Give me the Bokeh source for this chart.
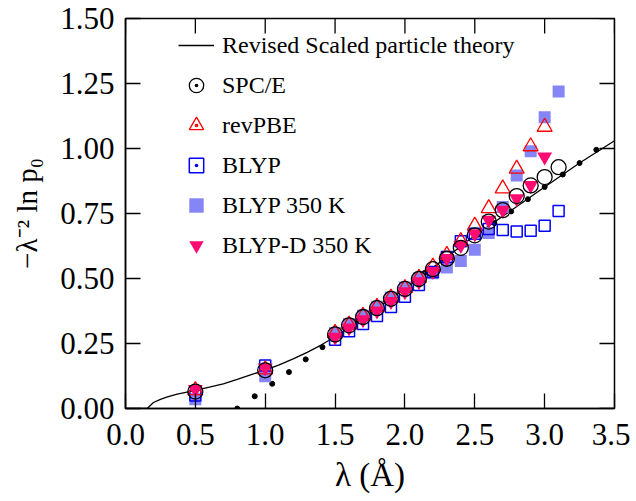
import math
from bokeh.plotting import figure
from bokeh.models import (Range1d, FixedTicker, PrintfTickFormatter, Legend, LegendItem)
from bokeh.embed import file_html
from bokeh.resources import INLINE

# ---------------- data ----------------
x_ticks = [0.0, 0.5, 1.0, 1.5, 2.0, 2.5, 3.0, 3.5]
y_ticks = [0.0, 0.25, 0.5, 0.75, 1.0, 1.25, 1.5]

# Revised scaled particle theory curve
rspt_lam = [0.0, 0.155, 0.2, 0.25, 0.3, 0.37, 0.5, 0.6, 0.7, 0.8, 0.9, 1.0, 1.1, 1.2,
            1.3, 1.4, 1.5, 1.75, 2.0, 2.25, 2.5, 2.75, 3.0, 3.25, 3.5]
rspt_val = [0.0, 0.0, 0.023, 0.035, 0.045, 0.055, 0.07, 0.082, 0.095, 0.112, 0.13, 0.148,
            0.168, 0.191, 0.216, 0.244, 0.276, 0.366, 0.46, 0.562, 0.665, 0.758, 0.852,
            0.944, 1.03]

# small black points
dots_lam = [0.80, 0.925, 1.05, 1.17, 1.29, 1.41, 1.53, 1.65, 1.77, 1.89, 2.02, 2.14,
            2.27, 2.39, 2.52, 2.64, 2.76, 2.88, 3.00, 3.13, 3.25, 3.37]
dots_val = [0.0, 0.047, 0.095, 0.14, 0.189, 0.236, 0.283, 0.33, 0.377, 0.425, 0.473,
            0.521, 0.57, 0.62, 0.668, 0.713, 0.758, 0.805, 0.852, 0.90, 0.944, 0.995]

lam_long = [0.5, 1.0, 1.5, 1.6, 1.7, 1.8, 1.9, 2.0, 2.1, 2.2, 2.3, 2.4, 2.5, 2.6, 2.7,
            2.8, 2.9, 3.0, 3.1]
lam_short = [0.5, 1.0, 1.5, 1.6, 1.7, 1.8, 1.9, 2.0, 2.1, 2.2, 2.3, 2.4, 2.5, 2.6, 2.7,
             2.8, 2.9, 3.0]

spce = [0.065, 0.147, 0.285, 0.32, 0.352, 0.386, 0.422, 0.46, 0.498, 0.536, 0.576, 0.618,
        0.666, 0.719, 0.763, 0.817, 0.858, 0.89, 0.928]
revpbe = [0.07, 0.15, 0.29, 0.322, 0.356, 0.39, 0.426, 0.463, 0.502, 0.545, 0.59, 0.643,
          0.703, 0.77, 0.846, 0.922, 1.008, 1.083]
blyp = [0.05, 0.165, 0.264, 0.297, 0.325, 0.356, 0.39, 0.43, 0.475, 0.525, 0.583, 0.643,
        0.672, 0.69, 0.687, 0.681, 0.684, 0.703, 0.76]
blyp350 = [0.036, 0.124, 0.29, 0.325, 0.357, 0.391, 0.427, 0.465, 0.5, 0.52, 0.542, 0.567,
           0.611, 0.675, 0.775, 0.896, 0.989, 1.12, 1.219]
blypd350 = [0.074, 0.156, 0.275, 0.31, 0.342, 0.376, 0.412, 0.45, 0.488, 0.528, 0.578,
            0.628, 0.672, 0.725, 0.763, 0.807, 0.858, 0.968]

FONT = "Liberation Serif"

p = figure(width=630, height=501,
           x_range=Range1d(x_ticks[0], x_ticks[-1]), y_range=Range1d(y_ticks[0], y_ticks[-1]),
           output_backend="svg", toolbar_location=None,
           min_border_left=125, min_border_right=16, min_border_top=18,
           min_border_bottom=93)
p.xgrid.visible = False
p.ygrid.visible = False
p.outline_line_color = "black"
p.outline_line_width = 1.5
p.background_fill_color = "white"
p.border_fill_color = "white"


def style_axis(ax, ticks, fmt):
    ax.ticker = FixedTicker(ticks=ticks)
    ax.formatter = PrintfTickFormatter(format=fmt)
    ax.major_tick_in = 15
    ax.major_tick_out = 0
    ax.minor_tick_line_color = None
    ax.major_tick_line_width = 1.3
    ax.axis_line_width = 1.5
    ax.major_label_text_font = FONT
    ax.major_label_text_font_size = "31px"
    ax.major_label_text_color = "black"


style_axis(p.xaxis[0], x_ticks, "%.1f")
style_axis(p.yaxis[0], y_ticks, "%.2f")
p.xaxis.major_label_standoff = 15
p.yaxis.major_label_standoff = 11
p.xaxis.axis_label = "λ (Å)"
p.yaxis.axis_label = "−λ⁻² ln p₀"
for ax in (p.xaxis[0], p.yaxis[0]):
    ax.axis_label_text_font = FONT
    ax.axis_label_text_font_style = "normal"
    ax.axis_label_text_color = "black"
p.xaxis.axis_label_text_font_size = "33px"
p.yaxis.axis_label_text_font_size = "29px"
p.xaxis.axis_label_standoff = 9
p.yaxis.axis_label_standoff = 14

# inward ticks on the top and right edges of the frame
p.ray(x=x_ticks, y=[y_ticks[-1]] * len(x_ticks), length=15, length_units="screen",
      angle=-math.pi / 2, line_color="black", line_width=1.3)
p.ray(x=[x_ticks[-1]] * len(y_ticks), y=y_ticks, length=15, length_units="screen",
      angle=math.pi, line_color="black", line_width=1.3)

# curve and points
r_line = p.line(rspt_lam, rspt_val, line_color="black", line_width=1.3)
p.scatter(dots_lam, dots_val, marker="circle", size=5, fill_color="black", line_color="black")

PINK = "#FF0A70"
LBLUE = "#8585F5"

p.scatter(lam_long, blyp350, marker="square", size=12, fill_color=LBLUE, line_color=None)
p.scatter(lam_long, blyp, marker="square", size=11, fill_color=None, line_color="blue",
          line_width=1.5)
p.scatter(lam_short, revpbe, marker="triangle", size=15, fill_color=None, line_color="red",
          line_width=1.3)
p.scatter(lam_short, blypd350, marker="inverted_triangle", size=15, fill_color=PINK,
          line_color=None)
p.scatter(lam_long, spce, marker="circle", size=15, fill_color=None, line_color="black",
          line_width=1.3)

# legend-only glyphs (with centre dots as in the original key)
nan = [float("nan")]
lg_spce = p.scatter(nan, nan, marker="circle_dot", fill_color=None, line_color="black",
                    line_width=1.3)
lg_rev = p.scatter(nan, nan, marker="triangle_dot", fill_color=None, line_color="red",
                   line_width=1.3)
lg_blyp = p.scatter(nan, nan, marker="square_dot", fill_color=None, line_color="blue",
                    line_width=1.5)
lg_b350 = p.scatter(nan, nan, marker="square", fill_color=LBLUE, line_color=None)
lg_bd = p.scatter(nan, nan, marker="inverted_triangle", fill_color=PINK, line_color=None)

legend = Legend(items=[
    LegendItem(label="Revised Scaled particle theory", renderers=[r_line]),
    LegendItem(label="SPC/E", renderers=[lg_spce]),
    LegendItem(label="revPBE", renderers=[lg_rev]),
    LegendItem(label="BLYP", renderers=[lg_blyp]),
    LegendItem(label="BLYP 350 K", renderers=[lg_b350]),
    LegendItem(label="BLYP-D 350 K", renderers=[lg_bd]),
], location=(53, 144), orientation="vertical", padding=0, margin=0, spacing=2,
    glyph_width=36, glyph_height=38, label_standoff=8, label_text_font=FONT,
    label_text_font_size="24px", label_text_color="black",
    border_line_color=None, background_fill_alpha=0)
p.add_layout(legend)

open("out.html", "w").write(file_html(p, INLINE))
